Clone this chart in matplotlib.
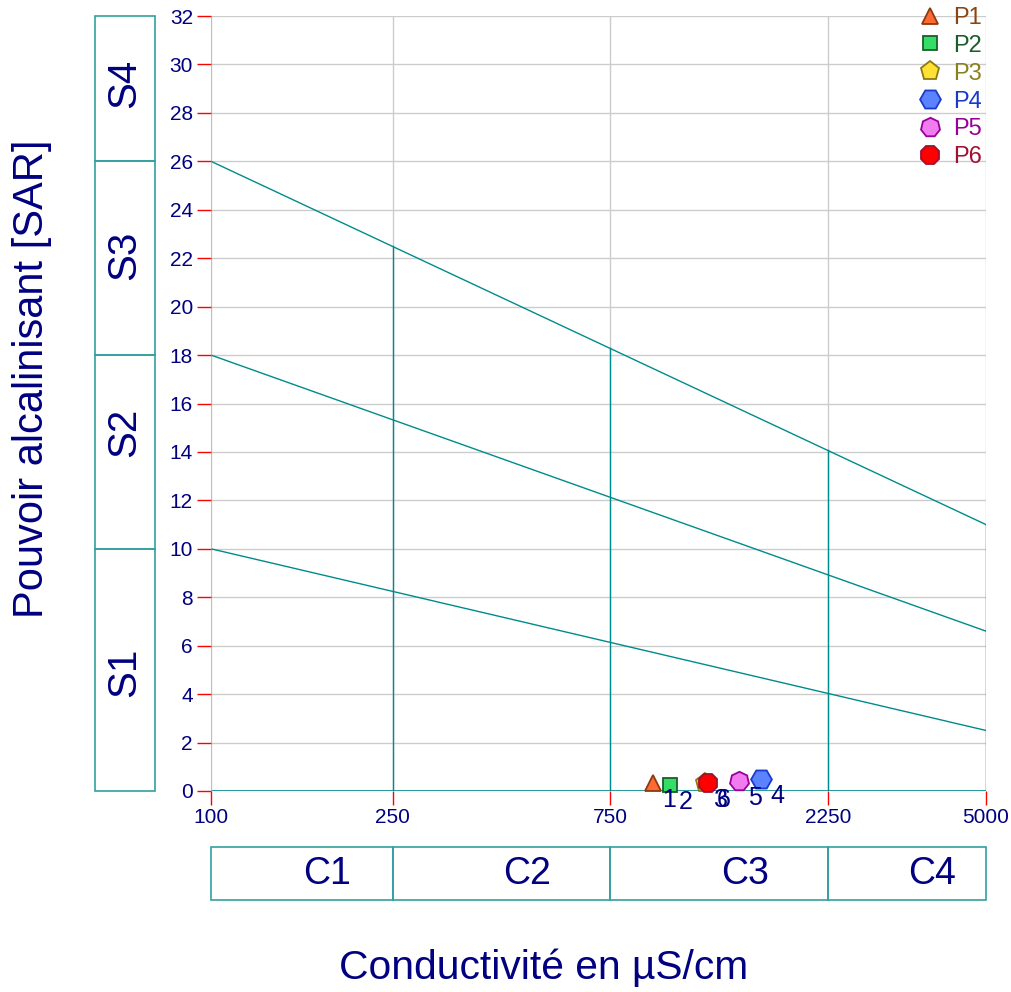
import math
import matplotlib
matplotlib.use("Agg")
import matplotlib.pyplot as plt
import matplotlib.transforms as mtransforms
from matplotlib.patches import Rectangle
from matplotlib.lines import Line2D

plt.rcParams['font.family'] = ['Liberation Sans', 'DejaVu Sans']

# ---- data ----
names = ["P1", "P2", "P3", "P4", "P5", "P6"]
labels = ["1", "2", "3", "4", "5", "6"]
conductivity = [929, 1013, 1211, 1606, 1436, 1227]
sar = [0.35, 0.25, 0.35, 0.50, 0.42, 0.35]
markers = ["^", "s", "p", "H", (7, 0, 0), "8"]
marker_sizes = [12, 10, 14, 15, 14, 14]
face_colors = ["#FF6A33", "#33DD66", "#FFE033", "#5B82FF", "#F07CF0", "#FF0000"]
edge_colors = ["#8B3A0F", "#1A5E2A", "#8B7A10", "#1A3ACC", "#990099", "#A01030"]
text_colors = ["#8B4513", "#1A5E2A", "#8B8020", "#1A3ACC", "#990099", "#A01030"]

x_ticks = [100, 250, 750, 2250, 5000]
y_ticks = list(range(0, 33, 2))
class_bounds_c = [100, 250, 750, 2250, 5000]
class_names_c = ["C1", "C2", "C3", "C4"]
class_label_x = [180, 493, 1482, 3807]
class_bounds_s = [0, 10, 18, 26, 32]
class_names_s = ["S1", "S2", "S3", "S4"]
class_label_y = [4.9, 14.8, 22.1, 29.2]
# boundary lines: SAR at 100 and at 5000
sar_lines_start = [10, 18, 26]
sar_lines_end = [2.5, 6.6, 11]

TEAL = "#008B8B"
BOXC = "#33A0A0"
NAVY = "#000080"

W, H = 1011, 992
fig = plt.figure(figsize=(W / 100, H / 100), dpi=100)
ax = fig.add_axes([211 / W, 1 - 791 / H, (986 - 211) / W, (791 - 16) / H])
ax.set_xscale("log")
ax.set_xlim(100, 5000)
ax.set_ylim(0, 32)
ax.minorticks_off()

# grid
for y in y_ticks:
    ax.axhline(y, color="#CCCCCC", lw=1, zorder=0)
for x in x_ticks:
    ax.axvline(x, color="#CCCCCC", lw=1, zorder=0)

# diagonal lines
for s0, s1 in zip(sar_lines_start, sar_lines_end):
    ax.plot([100, 5000], [s0, s1], color=TEAL, lw=1, zorder=1)

# vertical teal lines up to top line
top0, top1 = sar_lines_start[-1], sar_lines_end[-1]
span = math.log10(5000 / 100)
for xb in class_bounds_c[1:]:
    ytop = top0 + (top1 - top0) * math.log10(xb / 100) / span
    ax.plot([xb, xb], [0, ytop], color=TEAL, lw=1, zorder=1)
ax.axhline(0, color=TEAL, lw=1.2, zorder=1)

for sp in ax.spines.values():
    sp.set_visible(False)
ax.axvline(100, color="#66E0E0", lw=1.2, zorder=1)

ax.set_xticks(x_ticks)
ax.set_xticklabels([str(v) for v in x_ticks])
ax.set_yticks(y_ticks)
ax.set_yticklabels([str(v) for v in y_ticks])
ax.tick_params(axis="both", colors="red", length=10, width=1, labelcolor=NAVY,
               labelsize=15)
ax.tick_params(axis="y", pad=3)
ax.tick_params(axis="x", pad=2)

# points
for i in range(len(names)):
    ax.plot(conductivity[i], sar[i], linestyle="none", marker=markers[i],
            markersize=marker_sizes[i], markerfacecolor=face_colors[i],
            markeredgecolor=edge_colors[i], markeredgewidth=1.3,
            zorder=5 + (i == 5), clip_on=False)
    ax.annotate(labels[i], (conductivity[i], sar[i]), xytext=(16, -5),
                textcoords="offset pixels", color=NAVY, fontsize=18,
                ha="center", va="top", zorder=7)

# S boxes (left)
trS = mtransforms.blended_transform_factory(fig.transFigure, ax.transData)
for k in range(4):
    y0, y1 = class_bounds_s[k], class_bounds_s[k + 1]
    ax.add_patch(Rectangle((95 / W, y0), 60 / W, y1 - y0, transform=trS,
                           fill=False, edgecolor=BOXC, lw=1.2, clip_on=False))
    ax.text(124 / W, class_label_y[k], class_names_s[k], transform=trS,
            rotation=90, ha="center", va="center", fontsize=29, color=NAVY)

# C boxes (bottom)
trC = mtransforms.blended_transform_factory(ax.transData, fig.transFigure)
yb0, yb1 = 1 - 900 / H, 1 - 847 / H
for k in range(4):
    x0, x1 = class_bounds_c[k], class_bounds_c[k + 1]
    ax.add_patch(Rectangle((x0, yb0), x1 - x0, yb1 - yb0, transform=trC,
                           fill=False, edgecolor=BOXC, lw=1.2, clip_on=False))
    ax.text(class_label_x[k], (yb0 + yb1) / 2, class_names_c[k], transform=trC,
            ha="center", va="center", fontsize=27, color=NAVY)

# axis labels
fig.text(32 / W, 1 - 379 / H, "Pouvoir alcalinisant [SAR]", rotation=90,
         ha="center", va="center", fontsize=30, color=NAVY)
fig.text(544 / W, 1 - 968 / H, "Conductivité en µS/cm", ha="center",
         va="center", fontsize=29.3, color=NAVY)

# legend
handles = [Line2D([], [], linestyle="none", marker=markers[i],
                  markersize=marker_sizes[i],
                  markerfacecolor=face_colors[i], markeredgecolor=edge_colors[i],
                  markeredgewidth=1.3) for i in range(len(names))]
leg = fig.legend(handles, names, loc="upper left",
                 bbox_to_anchor=(904 / W, 1 + 5 / H), frameon=False,
                 fontsize=17, borderpad=0, handlelength=1.2, handletextpad=0.4,
                 labelspacing=0.25)
for t, c in zip(leg.get_texts(), text_colors):
    t.set_color(c)

fig.savefig("out.png", dpi=100)
